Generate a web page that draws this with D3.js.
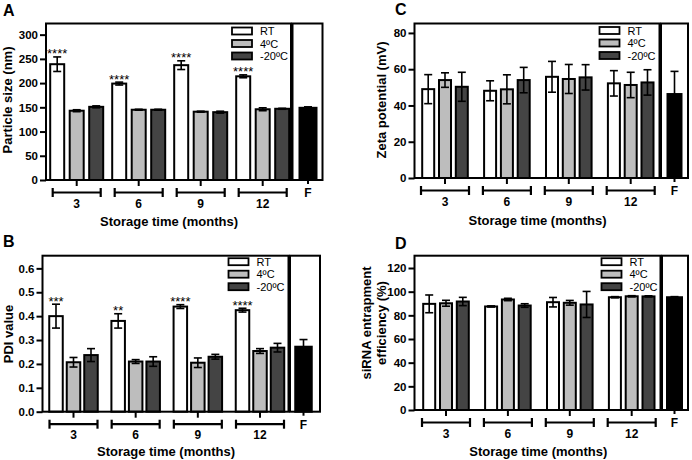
<!DOCTYPE html>
<html>
<head>
<meta charset="utf-8">
<script src="https://cdn.jsdelivr.net/npm/d3@7"></script>
<style>
  html, body { margin: 0; padding: 0; background: #fff; }
  svg { display: block; font-family: "Liberation Sans", Arial, Helvetica, sans-serif; }
</style>
</head>
<body>
<svg id="chart" width="692" height="460"></svg>
<script>
// ---------- data ----------
const groups = ["3", "6", "9", "12"];
const series = ["RT", "4ºC", "-20ºC"];
const seriesFill = ["#ffffff", "#bdbdbd", "#444444"];
const fLabel = "F";

// A: particle size (nm)
const sizeRT = [239, 199, 237, 214];
const sizeRTErr = [15, 3, 9, 3];
const size4C = [143, 145, 141, 146];
const size4CErr = [2, 1, 1, 3];
const size20 = [151, 145, 140, 147];
const size20Err = [2, 1, 2, 1];
const sizeF = [149];
const sizeFErr = [2];
const sizeStars = ["****", "****", "****", "****"];
const sizeTicks = [0, 50, 100, 150, 200, 250, 300];

// B: PDI
const pdiRT = [0.40, 0.38, 0.44, 0.425];
const pdiRTErr = [0.05, 0.03, 0.008, 0.008];
const pdi4C = [0.207, 0.21, 0.205, 0.254];
const pdi4CErr = [0.02, 0.008, 0.02, 0.01];
const pdi20 = [0.237, 0.21, 0.23, 0.268];
const pdi20Err = [0.027, 0.02, 0.01, 0.018];
const pdiF = [0.272];
const pdiFErr = [0.03];
const pdiStars = ["***", "**", "****", "****"];
const pdiTicks = [0, 0.1, 0.2, 0.3, 0.4, 0.5, 0.6];

// C: zeta potential (mV)
const zetaRT = [49, 48.1, 55.8, 52.2];
const zetaRTErr = [8, 5.5, 8.5, 7];
const zeta4C = [54, 48.9, 54.6, 51.3];
const zeta4CErr = [4, 8, 8, 7];
const zeta20 = [50.3, 54, 55.5, 52.7];
const zeta20Err = [8, 7, 7, 7];
const zetaF = [46.3];
const zetaFErr = [12.5];
const zetaStars = ["", "", "", ""];
const zetaTicks = [0, 20, 40, 60, 80];

// D: siRNA entrapment efficiency (%)
const eeRT = [89.7, 87.5, 91.1, 95.3];
const eeRTErr = [7.5, 0.5, 4, 0.5];
const ee4C = [90.2, 93.4, 90.6, 96.1];
const ee4CErr = [2.5, 1, 2, 0.5];
const ee20 = [91.7, 88.3, 89.2, 96];
const ee20Err = [3.5, 1.5, 11, 0.5];
const eeF = [95.3];
const eeFErr = [0.5];
const eeStars = ["", "", "", ""];
const eeTicks = [0, 20, 40, 60, 80, 100, 120];

const xTitle = "Storage time (months)";

// ---------- drawing ----------
const svg = d3.select("#chart");

function drawPanel(cfg, vals, errs, fVal, fErr, stars, ticks) {
  const g = svg.append("g");
  const y = d3.scaleLinear().domain([0, cfg.yMax]).range([cfg.bottom, cfg.top]);
  const x = d3.scalePoint().domain(groups).range([cfg.g0, cfg.g3]);
  const half = cfg.step * 1.5;
  const pad = 1 - cfg.barW / cfg.step;
  const xs = d3.scaleBand().domain(series).range([-half, half]).paddingInner(pad).paddingOuter(pad / 2);
  const xf = d3.scaleBand().domain([fLabel]).range([cfg.fC - cfg.fW / 2, cfg.fC + cfg.fW / 2]);

  // bars
  series.forEach((s, si) => {
    groups.forEach((grp, gi) => {
      const v = vals[si][gi];
      g.append("rect")
        .attr("x", x(grp) + xs(s))
        .attr("y", y(v))
        .attr("width", xs.bandwidth())
        .attr("height", y(0) - y(v))
        .attr("fill", seriesFill[si])
        .attr("stroke", "#000")
        .attr("stroke-width", 2);
    });
  });
  g.append("rect")
    .attr("x", xf(fLabel)).attr("y", y(fVal[0]))
    .attr("width", xf.bandwidth()).attr("height", y(0) - y(fVal[0]))
    .attr("fill", "#000").attr("stroke", "#000").attr("stroke-width", 2);

  // error bars
  function errBar(cx, v, e) {
    const cap = 4;
    g.append("line").attr("x1", cx).attr("x2", cx).attr("y1", y(v - e)).attr("y2", y(v + e))
      .attr("stroke", "#000").attr("stroke-width", 1.6);
    [v - e, v + e].forEach(t => {
      g.append("line").attr("x1", cx - cap).attr("x2", cx + cap).attr("y1", y(t)).attr("y2", y(t))
        .attr("stroke", "#000").attr("stroke-width", 1.6);
    });
  }
  series.forEach((s, si) => {
    groups.forEach((grp, gi) => {
      errBar(x(grp) + xs(s) + xs.bandwidth() / 2, vals[si][gi], errs[si][gi]);
    });
  });
  errBar(xf(fLabel) + xf.bandwidth() / 2, fVal[0], fErr[0]);

  // significance stars
  groups.forEach((grp, gi) => {
    if (!stars[gi]) return;
    g.append("text")
      .attr("x", x(grp) + xs(series[0]) + xs.bandwidth() / 2)
      .attr("y", y(vals[0][gi] + errs[0][gi]) + 1.5)
      .attr("text-anchor", "middle")
      .attr("font-size", 13)
      .text(stars[gi]);
  });

  // frames
  g.append("rect").attr("x", cfg.left).attr("y", cfg.top)
    .attr("width", cfg.mainRight - cfg.left).attr("height", cfg.bottom - cfg.top)
    .attr("fill", "none").attr("stroke", "#000").attr("stroke-width", 2);
  g.append("rect").attr("x", cfg.fLeft).attr("y", cfg.top)
    .attr("width", cfg.fRight - cfg.fLeft).attr("height", cfg.bottom - cfg.top)
    .attr("fill", "none").attr("stroke", "#000").attr("stroke-width", 2);

  // y axis
  const ax = g.append("g").attr("transform", `translate(${cfg.left},0)`)
    .call(d3.axisLeft(y).tickValues(ticks).tickSize(6).tickPadding(2).tickFormat(d3.format(cfg.fmt)));
  ax.select(".domain").remove();
  ax.selectAll(".tick line").attr("stroke", "#000").attr("stroke-width", 2);
  ax.selectAll(".tick text").attr("font-size", 11.5).attr("font-weight", "bold").attr("fill", "#000")
    .attr("font-family", "Liberation Sans, Arial, sans-serif");

  // x brackets
  const b = cfg.bottom;
  groups.forEach(grp => {
    const cx = x(grp);
    g.append("line").attr("x1", cx).attr("x2", cx).attr("y1", b).attr("y2", b + 6)
      .attr("stroke", "#000").attr("stroke-width", 2);
    g.append("line").attr("x1", cx - 24).attr("x2", cx + 24).attr("y1", b + 12.5).attr("y2", b + 12.5)
      .attr("stroke", "#000").attr("stroke-width", 2.2);
    [cx - 24, cx + 24].forEach(ex => {
      g.append("line").attr("x1", ex).attr("x2", ex).attr("y1", b + 8).attr("y2", b + 17)
        .attr("stroke", "#000").attr("stroke-width", 2.2);
    });
    g.append("text").attr("x", cx).attr("y", b + 27.5).attr("text-anchor", "middle")
      .attr("font-size", 12).attr("font-weight", "bold").text(grp);
  });
  const fcx = xf(fLabel) + xf.bandwidth() / 2;
  g.append("line").attr("x1", fcx).attr("x2", fcx).attr("y1", b).attr("y2", b + 4)
    .attr("stroke", "#000").attr("stroke-width", 2);
  g.append("text").attr("x", fcx).attr("y", b + 17).attr("text-anchor", "middle")
    .attr("font-size", 12).attr("font-weight", "bold").text(fLabel);

  // titles
  g.append("text").attr("x", cfg.xTitleX).attr("y", cfg.xTitleY).attr("text-anchor", "middle")
    .attr("font-size", 13).attr("font-weight", "bold").text(xTitle);
  cfg.yTitle.forEach((t, i) => {
    g.append("text")
      .attr("transform", `translate(${cfg.yTitleX[i]},${cfg.yTitleY}) rotate(-90)`)
      .attr("text-anchor", "middle").attr("font-size", 13).attr("font-weight", "bold").text(t);
  });
  g.append("text").attr("x", cfg.letterX).attr("y", cfg.letterY)
    .attr("font-size", 16).attr("font-weight", "bold").text(cfg.letter);

  // legend
  series.forEach((s, si) => {
    const ly = cfg.legY + si * 12.5;
    g.append("rect").attr("x", cfg.legX).attr("y", ly - 3.5).attr("width", 20).attr("height", 7)
      .attr("fill", seriesFill[si]).attr("stroke", "#000").attr("stroke-width", 1.8);
    g.append("text").attr("x", cfg.legX + 28).attr("y", ly + 4).attr("font-size", 11).text(s);
  });
}

drawPanel({
  letter: "A", letterX: 3, letterY: 16,
  left: 46, mainRight: 291, fLeft: 292.5, fRight: 322.5, top: 23.5, bottom: 180,
  yMax: 323, g0: 76.7, g3: 262.7, step: 19.5, barW: 14, fC: 308, fW: 17, fmt: "d",
  xTitleX: 169, xTitleY: 226, yTitle: ["Particle size (nm)"], yTitleX: [12], yTitleY: 100,
  legX: 232, legY: 31
}, [sizeRT, size4C, size20], [sizeRTErr, size4CErr, size20Err], sizeF, sizeFErr, sizeStars, sizeTicks);

drawPanel({
  letter: "B", letterX: 3, letterY: 247,
  left: 42.5, mainRight: 288.5, fLeft: 290, fRight: 320, top: 255.7, bottom: 411.7,
  yMax: 0.653, g0: 73.5, g3: 260, step: 17.5, barW: 13.5, fC: 303.5, fW: 16.5, fmt: ".1f",
  xTitleX: 166, xTitleY: 455.5, yTitle: ["PDI value"], yTitleX: [12.5], yTitleY: 334,
  legX: 228.5, legY: 261.7
}, [pdiRT, pdi4C, pdi20], [pdiRTErr, pdi4CErr, pdi20Err], pdiF, pdiFErr, pdiStars, pdiTicks);

drawPanel({
  letter: "C", letterX: 395, letterY: 15,
  left: 414.5, mainRight: 659.5, fLeft: 661, fRight: 688, top: 23.5, bottom: 178,
  yMax: 85.2, g0: 445, g3: 630.7, step: 16.8, barW: 12, fC: 674.5, fW: 14, fmt: "d",
  xTitleX: 537.5, xTitleY: 224.5, yTitle: ["Zeta potential (mV)"], yTitleX: [386], yTitleY: 100,
  legX: 599.5, legY: 30.5
}, [zetaRT, zeta4C, zeta20], [zetaRTErr, zeta4CErr, zeta20Err], zetaF, zetaFErr, zetaStars, zetaTicks);

drawPanel({
  letter: "D", letterX: 395, letterY: 248.5,
  left: 414.5, mainRight: 660.5, fLeft: 662, fRight: 688, top: 255.7, bottom: 410,
  yMax: 130.4, g0: 446, g3: 631.7, step: 16.8, barW: 12, fC: 674.5, fW: 15, fmt: "d",
  xTitleX: 538.3, xTitleY: 455.5, yTitle: ["siRNA entrapment", "efficiency (%)"], yTitleX: [371, 386], yTitleY: 323,
  legX: 601.5, legY: 261.7
}, [eeRT, ee4C, ee20], [eeRTErr, ee4CErr, ee20Err], eeF, eeFErr, eeStars, eeTicks);
</script>
</body>
</html>
